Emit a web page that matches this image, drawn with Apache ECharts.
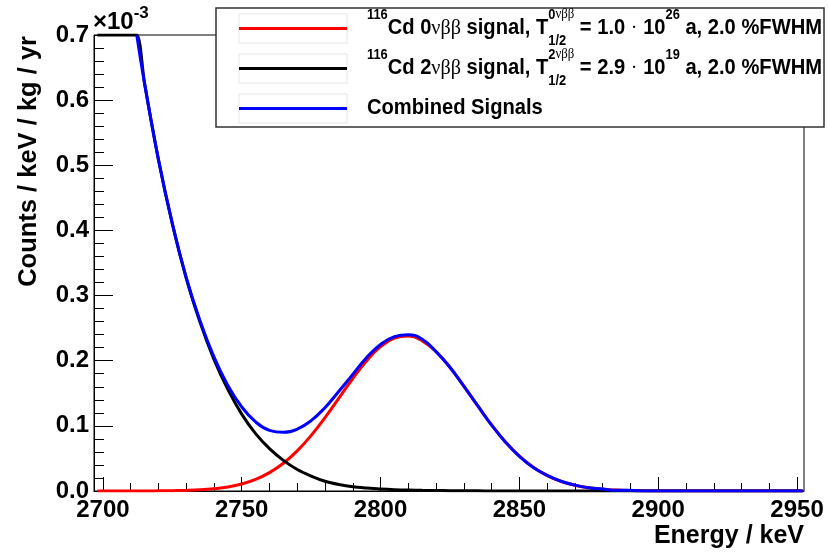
<!DOCTYPE html>
<html><head><meta charset="utf-8">
<script src="https://cdn.jsdelivr.net/npm/echarts@6/dist/echarts.min.js"></script>
<style>html,body{margin:0;padding:0;background:#fff}#c{width:828px;height:555px}</style>
</head><body><div id="c"></div>
<script>
// ---- data (values in units of 1e-3 counts / keV / kg / yr) ----
const energy = [2698, 2705, 2710, 2712.2, 2715, 2720, 2725, 2730, 2735, 2740, 2745, 2750, 2755, 2760, 2765, 2770, 2775, 2780, 2785, 2790, 2795, 2800, 2805, 2810, 2815, 2820, 2825, 2830, 2835, 2840, 2845, 2850, 2855, 2860, 2865, 2870, 2875, 2880, 2885, 2890, 2895, 2900, 2910, 2920, 2930, 2940, 2952];
const signal0v = [0, 0, 0, 0, 0, 0.0002, 0.0005, 0.0009, 0.0018, 0.0035, 0.0062, 0.0108, 0.0178, 0.0282, 0.0426, 0.0616, 0.0852, 0.1127, 0.1426, 0.1727, 0.2000, 0.2215, 0.2346, 0.2378, 0.2305, 0.2137, 0.1896, 0.1608, 0.1305, 0.1013, 0.0752, 0.0534, 0.0363, 0.0236, 0.0147, 0.0087, 0.0050, 0.0027, 0.0014, 0.0007, 0.0003, 0.0001, 0, 0, 0, 0, 0];
const signal2v = [0.7, 0.7, 0.7, 0.7, 0.626, 0.509, 0.410, 0.327, 0.259, 0.202, 0.156, 0.118, 0.088, 0.065, 0.047, 0.033, 0.023, 0.015, 0.010, 0.0065, 0.0045, 0.003, 0.002, 0.0015, 0.001, 0.0007, 0.0005, 0.0003, 0.0002, 0.0001, 0, 0, 0, 0, 0, 0, 0, 0, 0, 0, 0, 0, 0, 0, 0, 0, 0];
const combined = [null, null, null, 0.700, 0.626, 0.509, 0.411, 0.328, 0.261, 0.206, 0.162, 0.129, 0.106, 0.093, 0.090, 0.095, 0.108, 0.128, 0.153, 0.179, 0.205, 0.225, 0.237, 0.240, 0.233, 0.214, 0.190, 0.161, 0.131, 0.101, 0.075, 0.053, 0.036, 0.024, 0.015, 0.009, 0.005, 0.003, 0.001, 0.001, 0, 0, 0, 0, 0, 0, 0];
const xMajorTicks = [2700, 2750, 2800, 2850, 2900, 2950];
const xMinorTicks = [2700, 2710, 2720, 2730, 2740, 2750, 2760, 2770, 2780, 2790, 2800, 2810, 2820, 2830, 2840, 2850, 2860, 2870, 2880, 2890, 2900, 2910, 2920, 2930, 2940, 2950];

const SANS = '"Liberation Sans", Arial, sans-serif';
const GREEK = '"Liberation Serif", serif';
const mctx = document.createElement('canvas').getContext('2d');
function fontStr(s, b, g) { return (b ? 'bold ' : '') + s.toFixed(2) + 'px ' + (g ? GREEK : SANS); }
function textW(t, f) { mctx.font = f; return mctx.measureText(t).width; }
let SX = 1; // horizontal squeeze factor for legend text
function placeOne(x, base, sg, out) {
  const f = fontStr(sg.s, sg.b, sg.g);
  if (out) out.push({type: 'text', x: x, y: base - 0.34 * sg.s, scaleX: SX, z: 110, silent: true,
    style: {text: sg.t, font: f, fill: '#000', textAlign: 'left', textVerticalAlign: 'middle'}});
  return textW(sg.t, f) * SX;
}
function place(x, base, arr, out) { const x0 = x; for (const sg of arr) x += placeOne(x, base + (sg.dy || 0), sg, out); return x - x0; }
function layout(x, base, segs, out) {
  for (const sg of segs) {
    if (sg.sup || sg.sub) {
      const w1 = place(x, base - 16, sg.sup || [], out);
      const w2 = place(x, base + 10, sg.sub || [], out);
      x += Math.max(w1, w2);
    } else {
      x += placeOne(x, base + (sg.dy || 0), sg, out);
    }
  }
  return x;
}
const L = 22, S = 14;
function entry(n, half, exp) {
  return [
    {t: '116', s: S, b: true, dy: -16},
    {t: 'Cd ' + n, s: L, b: true},
    {t: '\u03bd\u03b2\u03b2', s: L, g: true},
    {t: ' signal, T', s: L, b: true},
    {sup: [{t: n, s: S, b: true}, {t: '\u03bd\u03b2\u03b2', s: S, g: true}], sub: [{t: '1/2', s: S, b: true}]},
    {t: ' = ' + half + ' ', s: L, b: true},
    {t: '\u00b7', s: L, g: true},
    {t: ' 10', s: L, b: true},
    {t: exp, s: S, b: true, dy: -16},
    {t: ' a, 2.0 %FWHM', s: L, b: true}
  ];
}
// squeeze legend text so the first entry spans x 367 .. 822
const X0 = 367, XEND = 822;
SX = 1;
const wTest = layout(X0, 0, entry('0', '1.0', '26'), null) - X0;
SX = (XEND - X0) / wTest;

const graphics = [];
graphics.push({type: 'rect', z: 100, shape: {x: 216, y: 8, width: 608, height: 119}, style: {fill: '#fff', stroke: '#333', lineWidth: 1.5}});
const legendRows = [{y: 28.5, c: '#ff0000'}, {y: 68.5, c: '#000000'}, {y: 108.5, c: '#0000ff'}];
legendRows.forEach(r => {
  graphics.push({type: 'rect', z: 105, shape: {x: 239, y: r.y - 14.5, width: 108, height: 29}, style: {fill: 'none', stroke: '#e6e6e6', lineWidth: 1}});
  graphics.push({type: 'line', z: 106, shape: {x1: 239, y1: r.y, x2: 347, y2: r.y}, style: {stroke: r.c, lineWidth: 3}});
});
layout(X0, 35.5, entry('0', '1.0', '26'), graphics);
layout(X0, 75.5, entry('2', '2.9', '19'), graphics);
layout(X0, 115.5, [{t: 'Combined Signals', s: L, b: true}], graphics);
// multiplier
SX = 1;
layout(93, 31, [{t: '\u00d710', s: 24, b: true}, {t: '-3', s: 17, b: true, dy: -12}], graphics);
// axis titles
graphics.push({type: 'text', x: 804, y: 536, z: 110, style: {text: 'Energy / keV', font: fontStr(25, true), fill: '#000', textAlign: 'right', textVerticalAlign: 'middle'}});
graphics.push({type: 'text', x: 29, y: 36, rotation: Math.PI / 2, z: 110, style: {text: 'Counts / keV / kg / yr', font: fontStr(25.5, true), fill: '#000', textAlign: 'right', textVerticalAlign: 'middle'}});

const pairs = arr => energy.map((e, i) => [e, arr[i]]);
const labelStyle = {color: '#000', fontFamily: SANS, fontWeight: 'bold', fontSize: 24};
const XMIN = 2696.8, XMAX = 2952.5;
const lineSeries = (name, arr, color, sm) => ({name: name, type: 'line', data: pairs(arr), showSymbol: false, smooth: sm,
  clip: true, connectNulls: false, lineStyle: {color: color, width: 3}, itemStyle: {color: color}});
const option = {
  animation: false,
  backgroundColor: '#fff',
  grid: {left: 94, right: 24, top: 35, bottom: 64, show: true, borderColor: '#000', borderWidth: 1, backgroundColor: 'transparent'},
  xAxis: [
    {type: 'value', min: XMIN, max: XMAX, position: 'bottom',
      axisLine: {show: true, onZero: false, lineStyle: {color: '#000', width: 1}},
      axisTick: {show: true, inside: true, length: 14, customValues: xMajorTicks, lineStyle: {color: '#000', width: 1}},
      axisLabel: Object.assign({show: true, margin: 7, customValues: xMajorTicks, formatter: v => String(Math.round(v))}, labelStyle),
      splitLine: {show: false}},
    {type: 'value', min: XMIN, max: XMAX, position: 'bottom', offset: 0,
      axisLine: {show: false},
      axisTick: {show: true, inside: true, length: 8, customValues: xMinorTicks, lineStyle: {color: '#000', width: 1}},
      axisLabel: {show: false}, splitLine: {show: false}}
  ],
  yAxis: {type: 'value', min: 0, max: 0.7, interval: 0.1,
    axisLine: {show: true, onZero: false, lineStyle: {color: '#000', width: 1}},
    axisTick: {show: true, inside: true, length: 19, lineStyle: {color: '#000', width: 1}},
    minorTick: {show: true, splitNumber: 5, length: 10, lineStyle: {color: '#000', width: 1}},
    axisLabel: Object.assign({margin: 5, formatter: v => v.toFixed(1)}, labelStyle),
    splitLine: {show: false}, minorSplitLine: {show: false}},
  series: [
    lineSeries('0vbb', signal0v, '#ff0000', 0.45),
    lineSeries('2vbb', signal2v, '#000000', 0.3),
    lineSeries('combined', combined, '#0000ff', 0.45)
  ],
  graphic: {elements: graphics}
};
const chart = echarts.init(document.getElementById('c'), null, {renderer: 'canvas'});
chart.setOption(option);
</script>
</body></html>
